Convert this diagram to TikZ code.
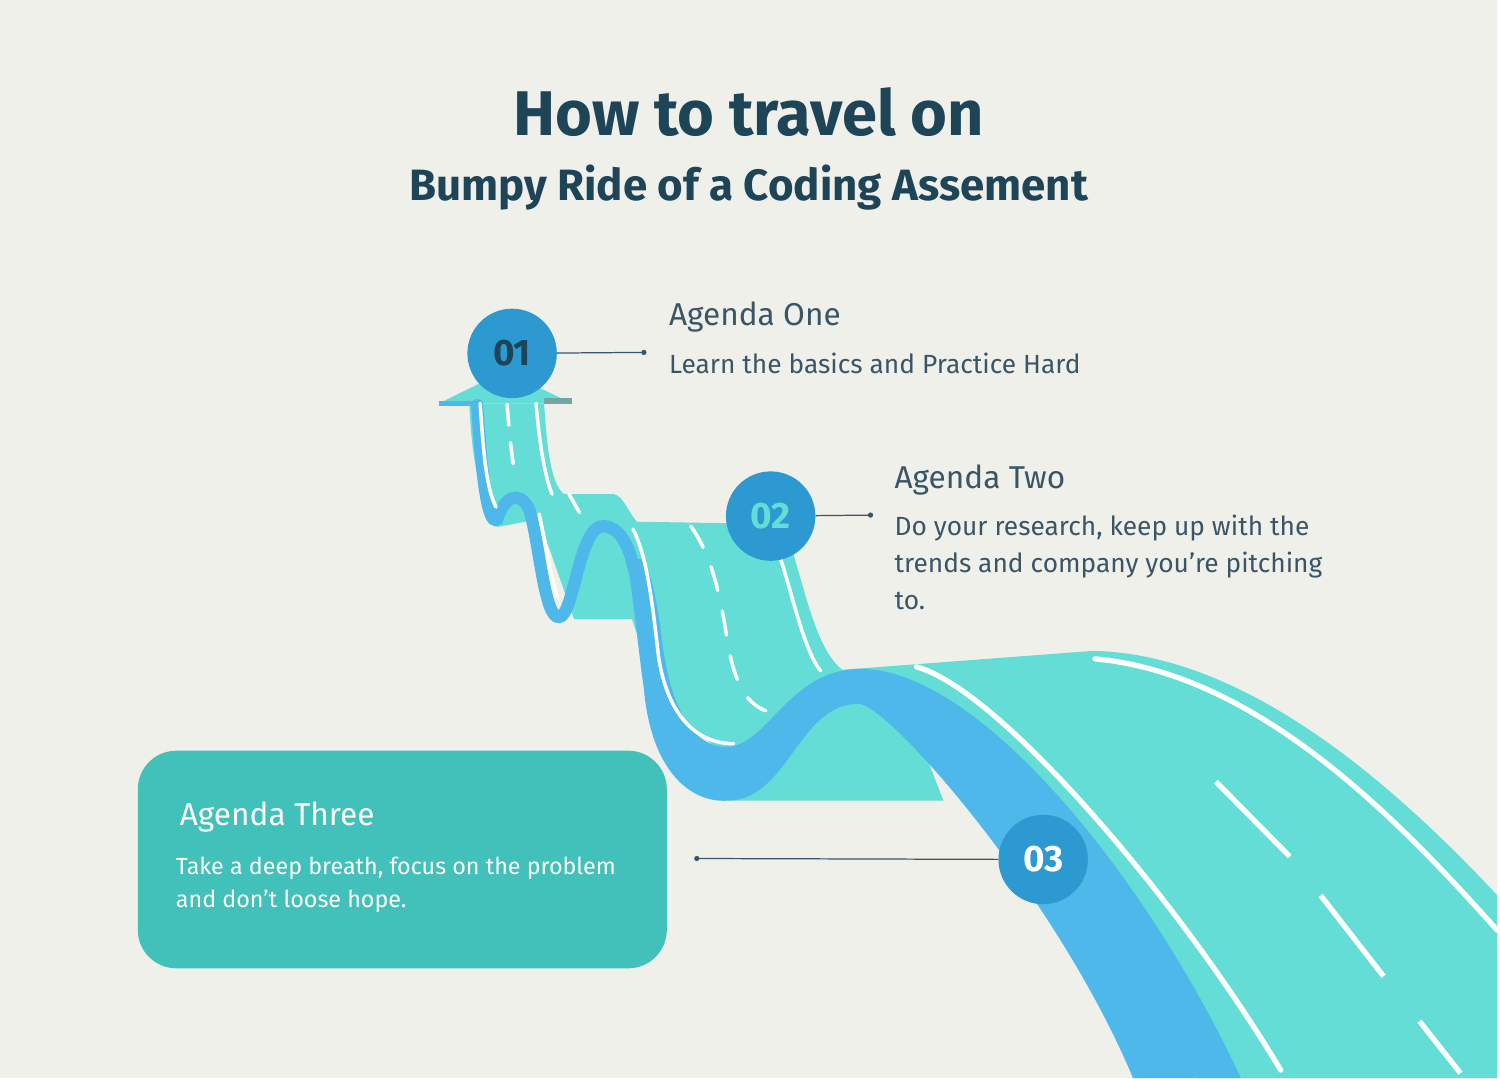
\documentclass[tikz,border=0pt]{standalone}
\usepackage{fontspec}
\setmainfont{Fira Sans}
\usetikzlibrary{positioning}
\definecolor{bgc}{HTML}{F0F0EB}
\definecolor{navy}{HTML}{1E4457}
\definecolor{road}{HTML}{63DDD5}
\definecolor{edge}{HTML}{4FB8EA}
\definecolor{dot}{HTML}{2C9AD1}
\definecolor{boxc}{HTML}{42C1BA}
\definecolor{body}{HTML}{3A5566}
\tikzset{
  stepdot/.style={circle, fill=dot, minimum size=51pt, inner sep=0pt, font=\fontsize{21}{21}\selectfont\bfseries},
  headtext/.style={anchor=west, text=body, font=\fontsize{18}{20}\selectfont\light},
  bodytext/.style={anchor=north west, text=body, font=\fontsize{15}{21}\selectfont\light, align=left},
  lane/.style={draw=white, line width=2pt, line cap=round},
  link/.style={draw=body, line width=0.7pt}
}
\newcommand\light{\fontseries{l}\selectfont}
\begin{document}
\begin{tikzpicture}[x=0.02cm, y=-0.02cm]
	\fill[bgc] (0,0) rectangle (1500,1080);
	% titles
	\node[text=navy, font=\fontsize{36}{36}\selectfont\bfseries] (title) at (750,112) {How to travel on};
	\node[text=navy, font=\fontsize{25}{25}\selectfont\bfseries] (subtitle) at (750,188) {Bumpy Ride of a Coding Assement};
	% road, top part with arrow
	\fill[road] (440,404) -- (505,372) -- (573,404) -- cycle;
	\fill[road] (470,404) -- (545,404) .. controls (548,450) and (552,485) .. (565,495)
		-- (615,495) .. controls (625,497) and (630,515) .. (640,525) -- (640,620) -- (575,620)
		-- (540,520) -- (498,528) .. controls (475,490) and (472,440) .. (470,404) -- cycle;
	\fill[gray!60!road] (545,399) rectangle (573,405);
	\draw[edge, line width=3pt] (440,404) -- (478,404);
	% road, middle part
	\fill[road] (600,522) -- (785,525) .. controls (805,580) and (815,650) .. (845,672)
		-- (860,690) -- (730,760) -- (660,700) -- cycle;
	\fill[road] (730,802) -- (945,802) -- (925,750) -- (870,690) -- (790,700) -- (740,760) -- cycle;
	% road, big lower part
	\fill[road] (830,672) -- (1095,652) .. controls (1250,655) and (1400,790) .. (1500,897)
		-- (1500,1080) -- (1200,1080) .. controls (1120,900) and (980,700) .. (830,672) -- cycle;
	% blue edge
	\draw[edge, line width=7pt, line cap=round] (478,406) .. controls (482,470) and (488,528) .. (498,520)
		.. controls (505,498) and (520,490) .. (530,510) .. controls (540,540) and (545,620) .. (560,618)
		.. controls (575,618) and (580,525) .. (605,527) .. controls (620,528) and (630,545) .. (635,570);
	\fill[edge] (628,560) .. controls (636,610) and (638,640) .. (645,690) .. controls (652,770) and (690,805) .. (730,802)
		.. controls (790,800) and (800,705) .. (860,705) .. controls (890,705) and (1060,900) .. (1135,1080)
		-- (1243,1080) .. controls (1150,880) and (980,668) .. (860,670)
		.. controls (790,672) and (770,745) .. (730,748) .. controls (690,750) and (670,700) .. (663,640)
		.. controls (658,600) and (652,570) .. (642,560) -- cycle;
	% lanes
	\draw[lane] (481,404) .. controls (484,450) and (487,490) .. (497,508);
	\draw[lane, dash pattern=on 12pt off 10pt] (508,405) .. controls (510,430) and (512,455) .. (516,475);
	\draw[lane] (537,404) .. controls (540,440) and (545,475) .. (553,495);
	\draw[lane, dash pattern=on 12pt off 12pt] (570,495) -- (590,530);
	\draw[lane] (540,515) .. controls (548,550) and (552,580) .. (558,598);
	\draw[lane] (634,530) .. controls (650,560) and (655,620) .. (660,660) .. controls (670,720) and (700,745) .. (735,745);
	\draw[lane, dash pattern=on 14pt off 12pt] (692,527) .. controls (715,560) and (722,600) .. (730,650) .. controls (738,690) and (750,705) .. (767,712);
	\draw[lane] (782,560) .. controls (795,600) and (805,650) .. (822,672);
	\draw[lane, line width=3pt] (918,668) .. controls (1000,690) and (1180,900) .. (1283,1072);
	\draw[lane, line width=3pt] (1097,660) .. controls (1260,675) and (1400,820) .. (1500,932);
	\foreach \a/\b in {{(1218,783)}/{(1292,858)}, {(1323,897)}/{(1386,978)}, {(1422,1023)}/{(1463,1075)}}
		\draw[lane, line width=3pt, line cap=butt] \a -- \b;
	% text box
	\fill[boxc, rounded corners=22pt] (138,752) rectangle (668,970);
	\node[anchor=west, text=white, font=\fontsize{18}{20}\selectfont\light] (three) at (174,818) {Agenda Three};
	\node[bodytext, text=white, font=\fontsize{13.3}{19}\selectfont\light] (threetxt) at (170,852) {Take a deep breath, focus on the problem\\and don't loose hope.};
	% steps
	\node[stepdot, text=navy] (one) at (513,354) {01};
	\node[stepdot, text=road] (two) at (772,517) {02};
	\node[stepdot, text=white] (tre) at (1045,861) {03};
	\coordinate (oneend) at (645,353);
	\coordinate (twoend) at (872,516);
	\coordinate (treend) at (698,860);
	\draw[link] (one) -- (oneend);
	\draw[link] (two) -- (twoend);
	\draw[link] (tre) -- (treend);
	\foreach \p in {oneend, twoend, treend}
		\fill[body] (\p) circle (1.5pt);
	% agenda texts
	\node[headtext] (onehead) at (664,318) {Agenda One};
	\node[bodytext] (onetxt) at (664,347) {Learn the basics and Practice Hard};
	\node[headtext] (twohead) at (890,481) {Agenda Two};
	\node[bodytext] (twotxt) at (890,510) {Do your research, keep up with the\\trends and company you're pitching\\to.};
\end{tikzpicture}
\end{document}
